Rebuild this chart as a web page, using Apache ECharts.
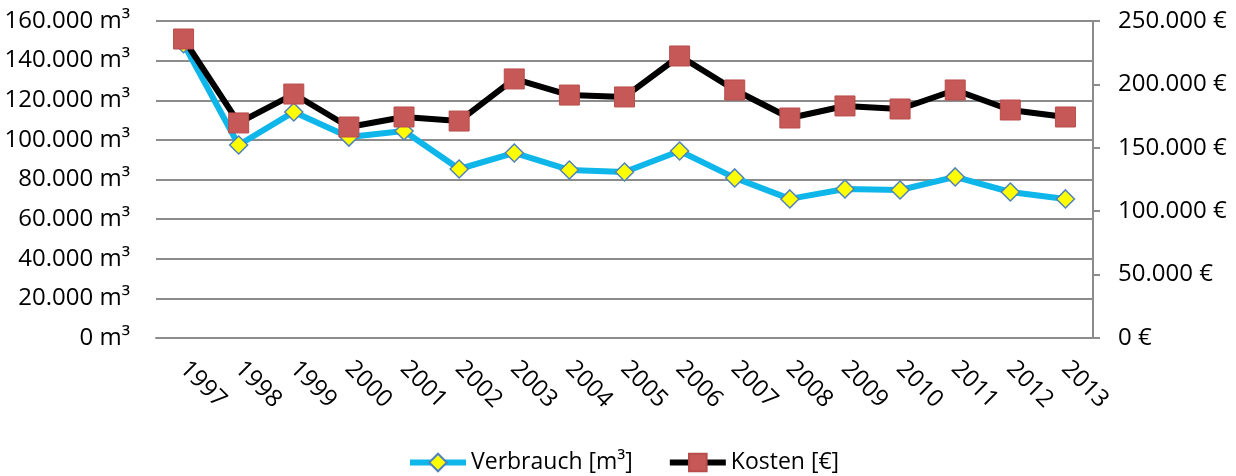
<!DOCTYPE html>
<html>
<head>
<meta charset="utf-8">
<script src="https://cdn.jsdelivr.net/npm/echarts@6/dist/echarts.min.js"></script>
<style>
  html, body { margin: 0; padding: 0; background: #fff; }
  #chart { width: 1236px; height: 476px; }
</style>
</head>
<body>
<div id="chart"></div>
<script>
// Daten
var years = ['1997', '1998', '1999', '2000', '2001', '2002', '2003', '2004', '2005',
             '2006', '2007', '2008', '2009', '2010', '2011', '2012', '2013'];
var verbrauch = [148500, 97400, 114100, 101400, 104500, 85300, 93400, 84800, 83800,
                 94400, 80800, 70200, 75200, 74700, 81300, 73700, 70200];
var kosten = [235800, 169600, 192400, 166400, 174300, 171100, 204300, 191600, 190100,
              222400, 195600, 173500, 183000, 180600, 195600, 179800, 174300];

var FONT = 'Open Sans';

// Tausenderpunkt
function fmt(v) {
  return String(v).replace(/\B(?=(\d{3})+(?!\d))/g, '.');
}

var myChart = echarts.init(document.getElementById('chart'));

var option = {
  backgroundColor: '#fff',
  textStyle: { fontFamily: FONT },
  animation: false,
  grid: { left: 156, right: 143, top: 21, bottom: 138 },
  legend: {
    left: 407,
    top: 451,
    padding: 0,
    itemWidth: 56,
    itemHeight: 22,
    itemGap: 34,
    lineStyle: { width: 6 },
    textStyle: { fontFamily: FONT, fontSize: 23, color: '#000' },
    data: ['Verbrauch [m³]', 'Kosten [€]']
  },
  xAxis: {
    type: 'category',
    data: years,
    boundaryGap: true,
    axisLine: { lineStyle: { color: '#8c8c8c', width: 2 } },
    axisTick: { show: false },
    axisLabel: {
      rotate: -45,
      margin: 27,
      interval: 0,
      color: '#000',
      fontFamily: FONT,
      fontSize: 24
    }
  },
  yAxis: [
    {
      type: 'value',
      min: 0,
      max: 160000,
      interval: 20000,
      axisLine: { show: false },
      axisTick: { show: false },
      splitLine: { lineStyle: { color: '#8c8c8c', width: 2 } },
      axisLabel: {
        margin: 26,
        color: '#000',
        fontFamily: FONT,
        fontSize: 24,
        formatter: function(v) { return fmt(v) + ' m³'; }
      }
    },
    {
      type: 'value',
      min: 0,
      max: 250000,
      interval: 50000,
      position: 'right',
      axisLine: { show: true, lineStyle: { color: '#8c8c8c', width: 2 } },
      axisTick: { show: true, length: 7, lineStyle: { color: '#8c8c8c', width: 2 } },
      splitLine: { show: false },
      axisLabel: {
        margin: 25,
        color: '#000',
        fontFamily: FONT,
        fontSize: 24,
        formatter: function(v) { return fmt(v) + ' €'; }
      }
    }
  ],
  series: [
    {
      name: 'Verbrauch [m³]',
      type: 'line',
      yAxisIndex: 0,
      data: verbrauch,
      symbol: 'diamond',
      symbolSize: 18,
      lineStyle: { color: '#0fb6ea', width: 6 },
      itemStyle: { color: '#ffff00', borderColor: '#4f81bd', borderWidth: 1.5 }
    },
    {
      name: 'Kosten [€]',
      type: 'line',
      yAxisIndex: 1,
      data: kosten,
      symbol: 'rect',
      symbolSize: 20,
      lineStyle: { color: '#000', width: 6 },
      itemStyle: { color: '#c65957', borderColor: '#b84d4b', borderWidth: 1 }
    }
  ]
};

myChart.setOption(option);
</script>
</body>
</html>
